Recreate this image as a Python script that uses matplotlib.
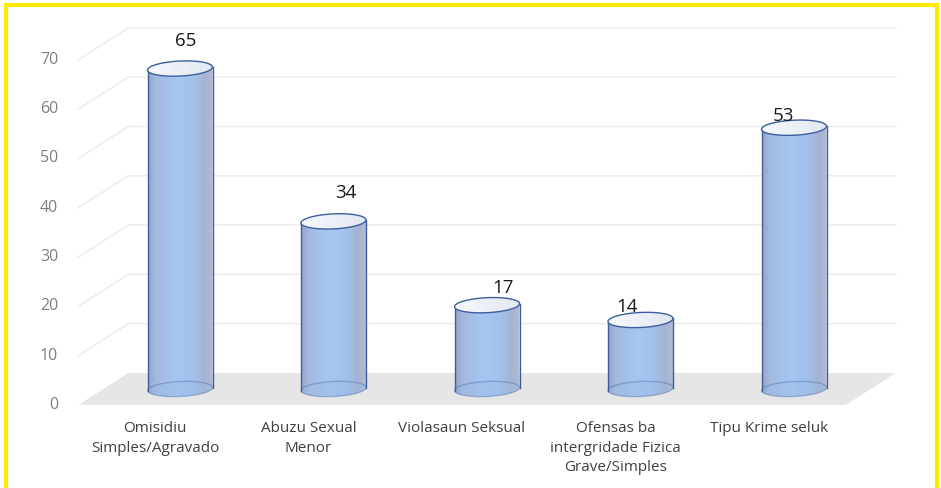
import numpy as np
import matplotlib
matplotlib.use("Agg")
import matplotlib.pyplot as plt
from matplotlib.patches import Polygon, Rectangle
from matplotlib.colors import LinearSegmentedColormap

categories = ["Omisidiu\nSimples/Agravado", "Abuzu Sexual\nMenor", "Violasaun Seksual",
              "Ofensas ba\nintergridade Fizica\nGrave/Simples", "Tipu Krime seluk"]
values = [65, 34, 17, 14, 53]
yticks = [0, 10, 20, 30, 40, 50, 60, 70]

plt.rcParams['font.family'] = ['Open Sans', 'DejaVu Sans']

# pixel scale of the layout
px_cat = 153.5          # pixels per category step
px_val = 4.93           # pixels per unit of value
x0_px, y0_px = 180, 389  # pixel of (category 0, value 0) on the middle plane
W, H = 941, 488

def dxp(p):
    return p / px_cat

def dyp(p):
    return -p / px_val

# depth: back plane (+25px, -16px up), front plane (-25px, +16px down)
ddx = dxp(25)
ddy = 16 / px_val

fig = plt.figure(figsize=(W / 100, H / 100), dpi=100)
ax = fig.add_axes([0, 0, 1, 1])
ax.set_axis_off()
xlim = (-x0_px / px_cat, (W - x0_px) / px_cat)
ylim = ((y0_px - H) / px_val, y0_px / px_val)

left, right = -0.5, len(values) - 0.5

# floor
floor = Polygon([(left - ddx, -ddy), (right - ddx, -ddy), (right + ddx, ddy), (left + ddx, ddy)],
                closed=True, facecolor='#E6E6E6', edgecolor='none', zorder=1)
ax.add_patch(floor)

# gridlines: left wall diagonal + back wall horizontal
for t in yticks[1:]:
    ax.plot([left - ddx, left + ddx, right + ddx], [t - ddy, t + ddy, t + ddy],
            color='#EBEBEB', lw=1.0, zorder=0.5)

# y tick labels on front plane
for t in yticks:
    ax.text(left - ddx - dxp(20), t - ddy, str(t), ha='right', va='center',
            fontsize=11.5, color='#7F7F7F')

body_cmap = LinearSegmentedColormap.from_list('cyl', [
    (0.0, '#94A6C8'), (0.12, '#A4BADF'), (0.45, '#A5C7F2'),
    (0.7, '#A2C1EC'), (0.88, '#A4B4D2'), (1.0, '#B1BCD2')])
cap_cmap = LinearSegmentedColormap.from_list('cap', ['#F6F8FC', '#E2E8F1'])

a = dxp(32.5)       # half width
b = 7.5 / px_val    # half height of ellipse
s = 1.5 / px_val    # tilt
edge = '#3E5F9E'

def ellipse_pts(cx, cy, t0, t1, n=80):
    t = np.linspace(t0, t1, n)
    return np.column_stack([cx + a * np.cos(t), cy + b * np.sin(t) + s * np.cos(t)])

label_off = [(6, -28), (12, -28), (16, -17), (-13, -13), (-11, -12)]

for i, v in enumerate(values):
    cx = i
    # body region: top back half + bottom front half
    body = np.vstack([ellipse_pts(cx, v, 0, np.pi), ellipse_pts(cx, 0, np.pi, 2 * np.pi)])
    clip = Polygon(body, closed=True, facecolor='none', edgecolor='none')
    ax.add_patch(clip)
    grad = np.linspace(0, 1, 200).reshape(1, -1)
    im = ax.imshow(grad, cmap=body_cmap, aspect='auto', zorder=3,
                   extent=[cx - a, cx + a, -b - s, v + b + s], interpolation='bilinear')
    im.set_clip_path(clip)
    # bottom ellipse outline
    ax.add_patch(Polygon(ellipse_pts(cx, 0, 0, 2 * np.pi), closed=True, facecolor='#9DBBE6',
                         alpha=0.35, edgecolor=edge, lw=1.0, zorder=4))
    # side lines
    ax.plot([cx - a, cx - a], [-s, v - s], color=edge, lw=1.0, zorder=4)
    ax.plot([cx + a, cx + a], [s, v + s], color=edge, lw=1.0, zorder=4)
    # top cap
    cap = Polygon(ellipse_pts(cx, v, 0, 2 * np.pi), closed=True, facecolor='none',
                  edgecolor='none')
    ax.add_patch(cap)
    im2 = ax.imshow(np.linspace(0, 1, 100).reshape(1, -1), cmap=cap_cmap, aspect='auto',
                    zorder=5, extent=[cx - a, cx + a, v - b - s, v + b + s])
    im2.set_clip_path(cap)
    ax.add_patch(Polygon(ellipse_pts(cx, v, 0, 2 * np.pi), closed=True, facecolor='none',
                         edgecolor=edge, lw=1.0, zorder=6))
    ox, oy = label_off[i]
    ax.text(cx + dxp(ox), v + dyp(oy), str(v), ha='center', va='center',
            fontsize=13.5, color='#1A1A1A', zorder=7)
    ax.text(cx - ddx, -ddy + dyp(16), categories[i], ha='center', va='top',
            fontsize=11, color='#404040', linespacing=1.42)

ax.set_xlim(*xlim)
ax.set_ylim(*ylim)

# yellow frame
fig.patches.append(Rectangle((5.5 / W, -0.05), (W - 10) / W, 1.05 - 5 / H, transform=fig.transFigure,
                             fill=False, edgecolor='#FFEA00', lw=3.0))

fig.savefig('out.png', dpi=100, facecolor='white')
